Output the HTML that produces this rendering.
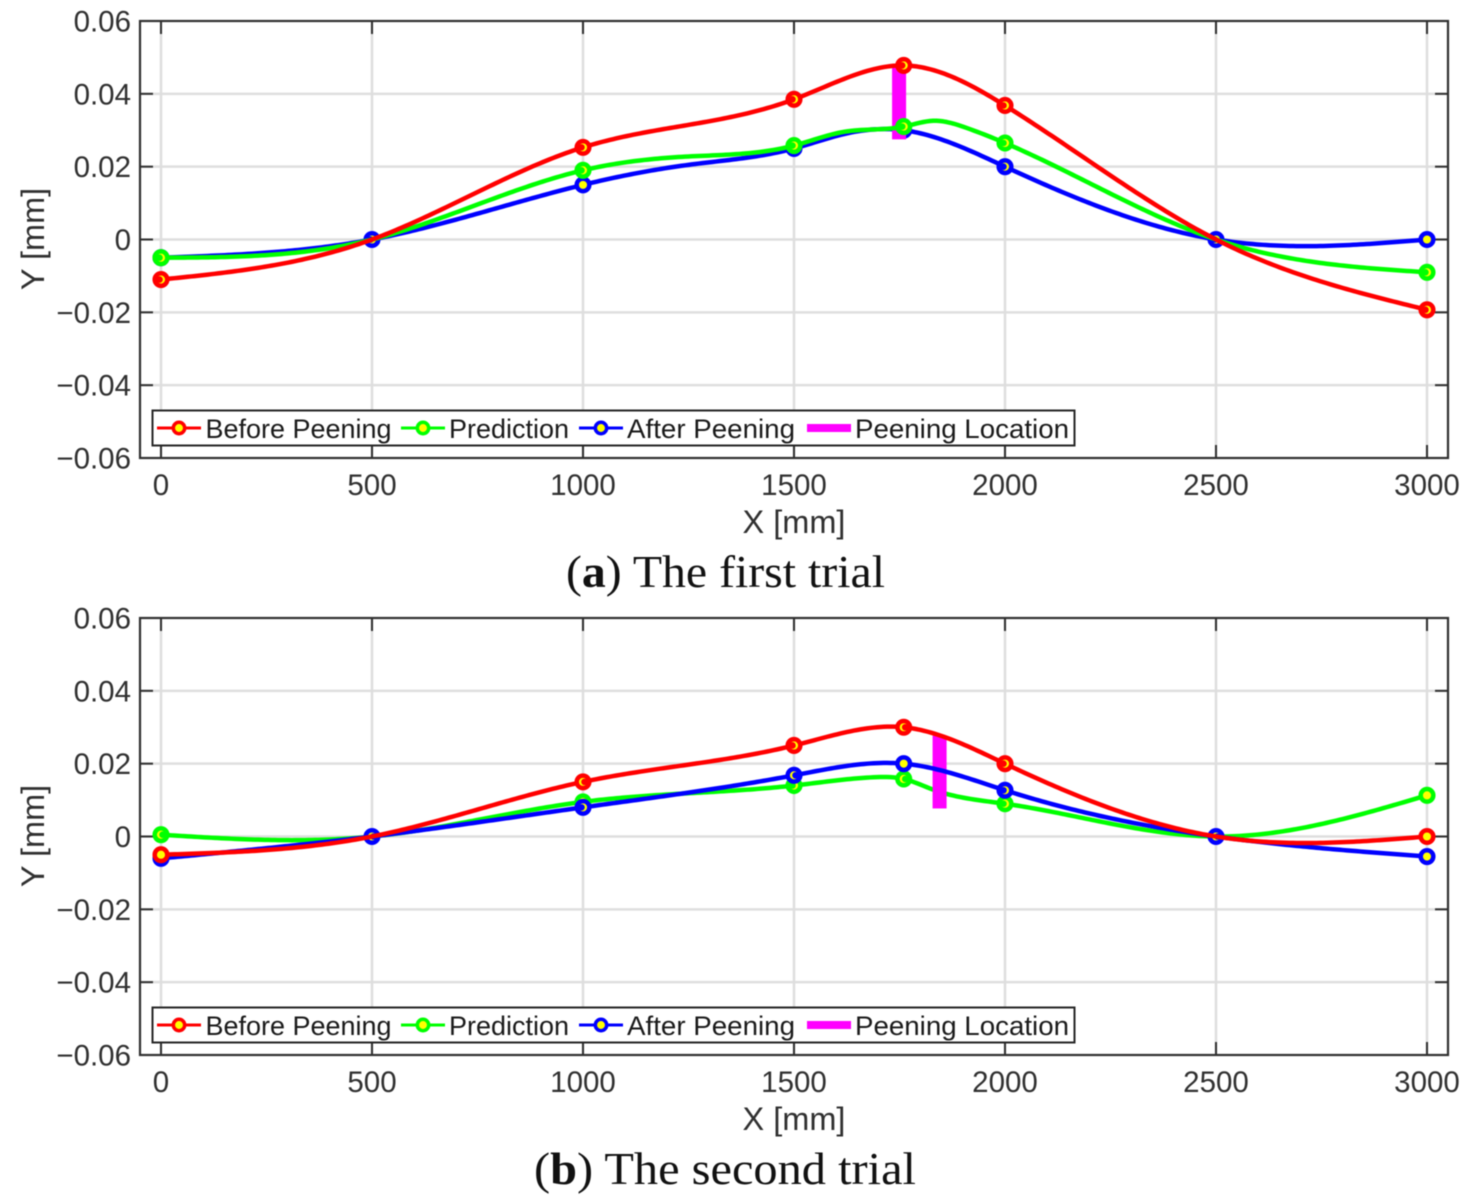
<!DOCTYPE html>
<html>
<head>
<meta charset="utf-8">
<title>Peening trials</title>
<style>
html,body{margin:0;padding:0;background:#fff;}
svg{display:block;filter:blur(0.45px);}
text{font-family:"Liberation Sans",sans-serif;}
.tick{font-size:29.5px;fill:#303030;}
.axis-title{font-size:32.5px;fill:#303030;}
.legend-text{font-size:27px;fill:#1a1a1a;}
.caption{font-family:"Liberation Serif",serif;font-size:46px;fill:#111;}
</style>
</head>
<body>
<svg id="chart" xmlns="http://www.w3.org/2000/svg" width="1466" height="1202" viewBox="0 0 1466 1202">
<rect width="1466" height="1202" fill="#fff"/>
<text class="caption" x="566" y="587" textLength="319" lengthAdjust="spacingAndGlyphs">(<tspan font-weight="bold">a</tspan>) The first trial</text>
<text class="caption" x="534" y="1184" textLength="382" lengthAdjust="spacingAndGlyphs">(<tspan font-weight="bold">b</tspan>) The second trial</text>
</svg>
<script>
// Shared axes
const xSamples = [0, 500, 1000, 1500, 1760, 2000, 2500, 3000];
const xTickValues = [0, 500, 1000, 1500, 2000, 2500, 3000];
const yTickValues = [0.06, 0.04, 0.02, 0, -0.02, -0.04, -0.06];
const yTickLabels = ['0.06', '0.04', '0.02', '0', '\u22120.02', '\u22120.04', '\u22120.06'];

// First trial
const beforeA = [-0.011, 0, 0.0253, 0.0385, 0.0478, 0.0368, 0, -0.0193];
const predictionA = [-0.005, 0, 0.019, 0.0258, 0.031, 0.0265, 0, -0.009];
const afterA = [-0.005, 0, 0.015, 0.025, 0.030, 0.020, 0, 0];
const peeningA = [1749, 0.0478, 0.0275];

// Extra points
const predictionAShapeX = [1250, 1620, 1830, 1910];
const predictionAShapeY = [0.0228, 0.0296, 0.0326, 0.0306];
const afterAShapeX = [1250, 1620];
const afterAShapeY = [0.0205, 0.0290];

// Second trial
const beforeB = [-0.005, 0, 0.015, 0.025, 0.030, 0.020, 0, 0];
const predictionB = [0.0005, 0, 0.0095, 0.014, 0.0158, 0.009, 0, 0.0113];
const afterB = [-0.006, 0, 0.008, 0.0168, 0.020, 0.0127, 0, -0.0055];
const peeningB = [1845, 0.0277, 0.0077];

const predictionBShapeX = [1696, 1829];
const predictionBShapeY = [0.0163, 0.0129];

const legendLabels = ['Before Peening', 'Prediction', 'After Peening', 'Peening Location'];

const NS = 'http://www.w3.org/2000/svg';
const root = document.getElementById('chart');
const RED = '#ff0000', GREEN = '#00ff00', BLUE = '#0000ff', MAGENTA = '#ff00ff', INK = '#303030', GRID = '#dedede';
const NO_MARKER_AT = [500, 2500];

function xScale(v) { return 161 + v * 0.422; }
function yScale(v) { return 239.5 - v * (437 / 0.12); }

function make(parent, tag) {
  const el = document.createElementNS(NS, tag);
  parent.appendChild(el);
  return el;
}

function seg(parent, name, x1, y1, x2, y2, color, width) {
  const l = make(parent, 'line');
  
  
  l.setAttribute('x1', x1);
  l.setAttribute('y1', y1);
  l.setAttribute('x2', x2);
  l.setAttribute('y2', y2);
  l.setAttribute('stroke', color);
  l.setAttribute('stroke-width', width);
  return l;
}

function label(parent, name, cls, x, y, anchor, str) {
  const t = make(parent, 'text');
  
  
  t.setAttribute('class', cls);
  t.setAttribute('x', x);
  t.setAttribute('y', y);
  t.setAttribute('text-anchor', anchor);
  t.textContent = str;
  return t;
}

// Natural cubic spline through the sample values, evaluated to a path.
function splinePath(xs, ys) {
  const n = xs.length;
  const m = new Array(n).fill(0);
  const c = new Array(n).fill(0);
  const d = new Array(n).fill(0);
  for (let i = 1; i < n - 1; i++) {
    const h0 = xs[i] - xs[i - 1], h1 = xs[i + 1] - xs[i];
    const w = 2 * (h0 + h1) - h0 * c[i - 1];
    c[i] = h1 / w;
    d[i] = (6 * ((ys[i + 1] - ys[i]) / h1 - (ys[i] - ys[i - 1]) / h0) - h0 * d[i - 1]) / w;
  }
  for (let i = n - 2; i > 0; i--) m[i] = d[i] - c[i] * m[i + 1];
  let path = '';
  for (let i = 0; i < n - 1; i++) {
    const h = xs[i + 1] - xs[i];
    const steps = Math.max(2, Math.round(h / 8));
    for (let s = (i === 0 ? 0 : 1); s <= steps; s++) {
      const t = s / steps, a = 1 - t;
      const v = a * ys[i] + t * ys[i + 1] + ((a * a * a - a) * m[i] + (t * t * t - t) * m[i + 1]) * h * h / 6;
      const px = xScale(xs[i] + t * h), py = yScale(v);
      path += (path ? 'L' : 'M') + px.toFixed(2) + ' ' + py.toFixed(2);
    }
  }
  return path;
}

function marker(parent, name, cx, cy, color, r, sw, crescent) {
  const g = make(parent, 'g');
  
  
  const o = make(g, 'circle');
  o.setAttribute('cx', cx);
  o.setAttribute('cy', cy);
  o.setAttribute('r', r);
  o.setAttribute('fill', '#ffff00');
  o.setAttribute('stroke', color);
  o.setAttribute('stroke-width', sw);
  if (crescent) {
    const i = make(g, 'circle');
    i.setAttribute('cx', cx + crescent);
    i.setAttribute('cy', cy);
    i.setAttribute('r', r * 0.52);
    i.setAttribute('fill', color);
  }
}

function drawSeries(parent, name, values, color, extraX, extraY, crescents, skipX) {
  const xs = xSamples.slice();
  const ys = values.slice();
  extraX.forEach(function (ex, k) {
    let idx = xs.findIndex(function (q) { return q > ex; });
    xs.splice(idx, 0, ex);
    ys.splice(idx, 0, extraY[k]);
  });
  const g = make(parent, 'g');
  
  
  const p = make(g, 'path');
  
  
  p.setAttribute('d', splinePath(xs, ys));
  p.setAttribute('fill', 'none');
  p.setAttribute('stroke', color);
  p.setAttribute('stroke-width', 4.5);
  p.setAttribute('stroke-linejoin', 'round');
  xSamples.forEach(function (x, i) {
    if (skipX.indexOf(x) >= 0) return;
    marker(g, name + '-point-' + x, xScale(x), yScale(values[i]), color, 6.3, 4.5, crescents[i]);
  });
}

function drawPeening(parent, name, data) {
  const r = make(parent, 'rect');
  
  
  r.setAttribute('x', xScale(data[0]) - 7);
  r.setAttribute('y', yScale(data[1]));
  r.setAttribute('width', 14);
  r.setAttribute('height', yScale(data[2]) - yScale(data[1]));
  r.setAttribute('fill', MAGENTA);
}

function drawAxes(g) {
  const L = 140, R = 1448, T = 21, B = 458, tk = 13;
  xTickValues.forEach(function (v) {
    const x = xScale(v);
    seg(g, 'x-gridline-' + v, x, T, x, B, GRID, 2.5);
  });
  yTickValues.forEach(function (v, i) {
    const y = yScale(v);
    if (i > 0 && i < yTickValues.length - 1) seg(g, 'y-gridline', L, y, R, y, GRID, 2.5);
  });
  const frame = make(g, 'rect');
  
  
  frame.setAttribute('x', L);
  frame.setAttribute('y', T);
  frame.setAttribute('width', R - L);
  frame.setAttribute('height', B - T);
  frame.setAttribute('fill', 'none');
  frame.setAttribute('stroke', INK);
  frame.setAttribute('stroke-width', 2.2);
  xTickValues.forEach(function (v) {
    const x = xScale(v);
    seg(g, 'x-tick-bottom', x, B, x, B - tk, INK, 2);
    seg(g, 'x-tick-top', x, T, x, T + tk, INK, 2);
    label(g, 'x-tick-label', 'tick', x, 495, 'middle', String(v));
  });
  yTickValues.forEach(function (v, i) {
    const y = yScale(v);
    seg(g, 'y-tick-left', L, y, L + tk, y, INK, 2);
    seg(g, 'y-tick-right', R, y, R - tk, y, INK, 2);
    label(g, 'y-tick-label', 'tick', 131, y + 10.5, 'end', yTickLabels[i]);
  });
  label(g, 'x-axis-title', 'axis-title', 794, 533, 'middle', 'X [mm]');
  const yt = label(g, 'y-axis-title', 'axis-title', 0, 0, 'middle', 'Y [mm]');
  yt.setAttribute('transform', 'translate(44 239) rotate(-90)');
}

function drawLegend(g) {
  const box = make(g, 'rect');
  
  
  box.setAttribute('x', 152.5);
  box.setAttribute('y', 410.5);
  box.setAttribute('width', 922);
  box.setAttribute('height', 35);
  box.setAttribute('fill', '#fff');
  box.setAttribute('stroke', '#262626');
  box.setAttribute('stroke-width', 2);
  const cy = 428;
  const lineStart = [157, 401, 579, 807];
  const textStart = [205.5, 449, 627, 855];
  const textWidth = [186, 120, 168, 214];
  const colors = [RED, GREEN, BLUE, MAGENTA];
  legendLabels.forEach(function (txt, i) {
    const x0 = lineStart[i];
    seg(g, 'legend-line', x0, cy, x0 + 44, cy, colors[i], i === 3 ? 8 : 3);
    if (i < 3) marker(g, 'legend-marker', x0 + 22, cy, colors[i], 5.7, 3.5, 0);
    const t = label(g, 'legend-entry', 'legend-text', textStart[i], 438, 'start', txt);
    t.setAttribute('textLength', textWidth[i]);
    t.setAttribute('lengthAdjust', 'spacingAndGlyphs');
  });
}

function panel(name, dy, draw) {
  const g = make(root, 'g');
  
  
  g.setAttribute('transform', 'translate(0 ' + dy + ')');
  drawAxes(g);
  draw(g);
  drawLegend(g);
}

panel('panel-first-trial', 0, function (g) {
  drawSeries(g, 'after-peening-series', afterA, BLUE, afterAShapeX, afterAShapeY, [-1.5, -1.5, 0, -1.5, -1.5, -1.5, -1.5, 0], []);
  drawPeening(g, 'peening-location-bar', peeningA);
  drawSeries(g, 'prediction-series', predictionA, GREEN, predictionAShapeX, predictionAShapeY, [-1.5, 0, -1.5, -1.5, -1.5, -1.5, 0, -1.5], NO_MARKER_AT);
  drawSeries(g, 'before-peening-series', beforeA, RED, [], [], [-1.5, 0, -1.5, -1.5, -1.5, -1.5, 0, -1.5], NO_MARKER_AT);
});

panel('panel-second-trial', 597, function (g) {
  drawSeries(g, 'prediction-series', predictionB, GREEN, predictionBShapeX, predictionBShapeY, [1.5, 0, 1.5, -1.5, 1.5, -1.5, 0, 0], NO_MARKER_AT);
  drawPeening(g, 'peening-location-bar', peeningB);
  drawSeries(g, 'after-peening-series', afterB, BLUE, [], [], [-1.5, 1.5, -1.5, 1.5, 0, -1.5, 1.5, 0], []);
  drawSeries(g, 'before-peening-series', beforeB, RED, [], [], [0, 0, 1.5, -1.5, 1.5, -1.5, 0, 0], NO_MARKER_AT);
});
</script>
</body>
</html>
